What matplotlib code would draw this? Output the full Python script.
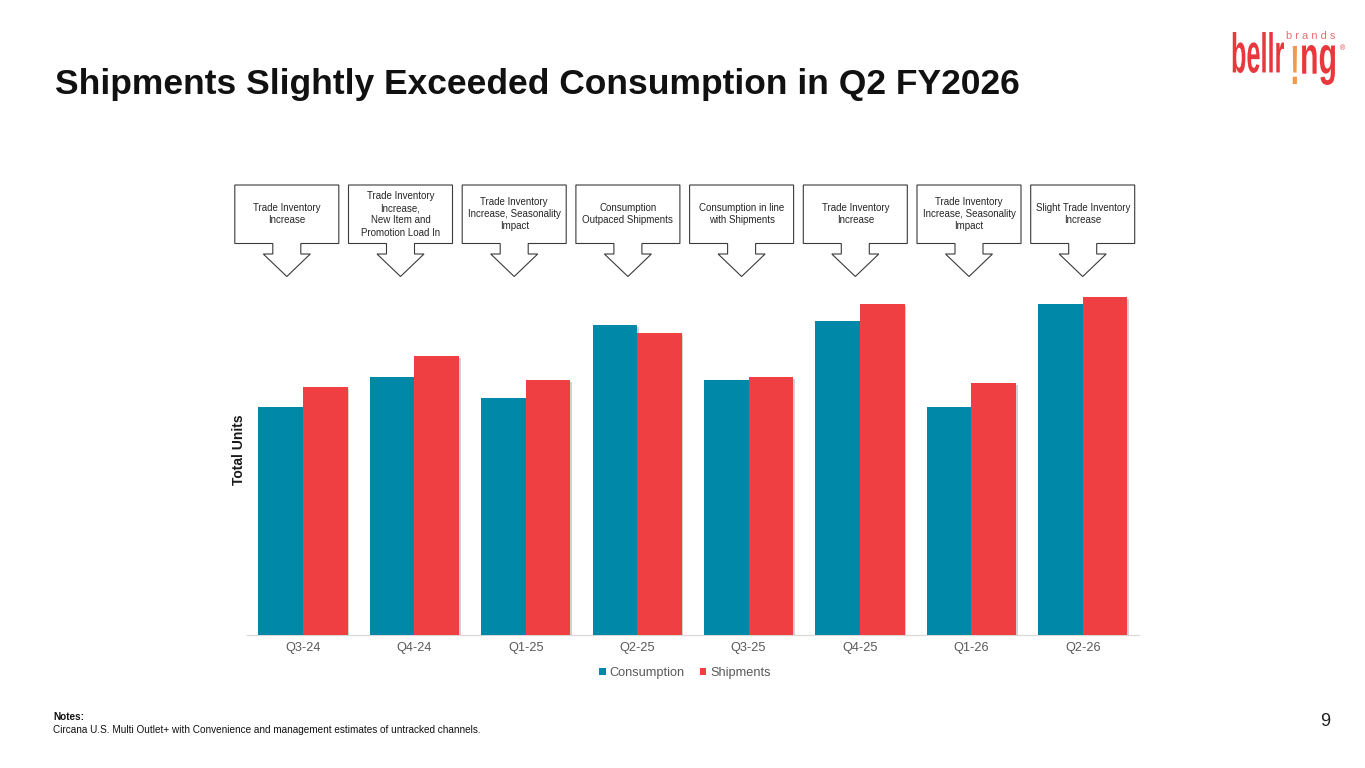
import matplotlib
matplotlib.use("Agg")
import matplotlib.pyplot as plt
import numpy as np
from matplotlib.patches import Polygon, PathPatch
from matplotlib.textpath import TextPath
from matplotlib.font_manager import FontProperties
from matplotlib.transforms import Affine2D
import matplotlib.patheffects as pe

plt.rcParams['font.family'] = ['Liberation Sans', 'DejaVu Sans']

# ---------------- data ----------------
quarters = ["Q3-24", "Q4-24", "Q1-25", "Q2-25", "Q3-25", "Q4-25", "Q1-26", "Q2-26"]
consumption = [228, 258, 237, 310, 255, 314, 228, 331]
shipments = [248, 279, 255, 302, 258, 331, 252, 338]
series_names = ["Consumption", "Shipments"]
callouts = [
    "Trade Inventory\nIncrease",
    "Trade Inventory\nIncrease,\nNew Item and\nPromotion Load In",
    "Trade Inventory\nIncrease, Seasonality\nImpact",
    "Consumption\nOutpaced Shipments",
    "Consumption in line\nwith Shipments",
    "Trade Inventory\nIncrease",
    "Trade Inventory\nIncrease, Seasonality\nImpact",
    "Slight Trade Inventory\nIncrease",
]
title = "Shipments Slightly Exceeded Consumption in Q2 FY2026"
notes_head = "Notes:"
notes_body = "Circana U.S. Multi Outlet+ with Convenience and management estimates of untracked channels."
page_no = "9"

TEAL = "#0088A8"
RED = "#EF3F43"
GRAY = "#595959"

W, H = 1365, 768
fig = plt.figure(figsize=(W / 100, H / 100), dpi=100)
fig.patch.set_facecolor("white")

# overlay in pixel coordinates for decorations
ov = fig.add_axes([0, 0, 1, 1], zorder=0)
ov.set_xlim(0, W)
ov.set_ylim(H, 0)
ov.axis("off")
ov.patch.set_alpha(0)

# main chart axes
ax_left, ax_right, ax_bottom_px, ax_top_px = 247.3, 1138.5, 635, 275
ax = fig.add_axes([ax_left / W, (H - ax_bottom_px) / H,
                   (ax_right - ax_left) / W, (ax_bottom_px - ax_top_px) / H], zorder=2)
ax.patch.set_alpha(0)

x = np.arange(len(quarters))
bw = 0.4
b1 = ax.bar(x - bw / 2, consumption, width=bw, color=TEAL, label=series_names[0], zorder=3)
b2 = ax.bar(x + bw / 2, shipments, width=bw, color=RED, label=series_names[1], zorder=3)

ax.set_xlim(-0.5, len(quarters) - 0.5)
ax.set_ylim(0, 360)
ax.set_xticks(x)
ax.set_xticklabels(quarters, color=GRAY, fontsize=9.2)
ax.tick_params(axis="x", length=0, pad=5)
ax.set_yticks([])
for s in ["top", "right", "left"]:
    ax.spines[s].set_visible(False)
ax.spines["bottom"].set_color("#D9D9D9")
ax.spines["bottom"].set_linewidth(0.9)

ax.set_ylabel("Total Units", fontsize=10, fontweight="bold", color="#1a1a1a")
ax.yaxis.set_label_coords(-0.001, 0.515)

leg = ax.legend(loc="center", bbox_to_anchor=(0.491, -0.106), ncol=2, frameon=False,
                fontsize=9.2, handlelength=0.5, handleheight=0.5, handletextpad=0.3,
                columnspacing=1.2, labelcolor=GRAY)

# subtle shadow on bars only (added after the legend so handles stay flat)
shadow = [pe.SimplePatchShadow(offset=(1.2, -1.2), shadow_rgbFace="#000000", alpha=0.18), pe.Normal()]
for p in list(b1) + list(b2):
    p.set_path_effects(shadow)

# callouts (down-arrow boxes)
box_w = 104.0
top, bot = 185.0, 243.5
shoulder, tip = 254.0, 276.5
shaft_hw, head_hw = 14.0, 23.5
for i, txt in enumerate(callouts):
    L = 234.8 + i * 113.7
    R = L + box_w
    c = (L + R) / 2
    pts = [(L, top), (R, top), (R, bot), (c + shaft_hw, bot), (c + shaft_hw, shoulder),
           (c + head_hw, shoulder), (c, tip), (c - head_hw, shoulder), (c - shaft_hw, shoulder),
           (c - shaft_hw, bot), (L, bot)]
    ov.add_patch(Polygon(pts, closed=True, facecolor="white", edgecolor="#3a3a3a", lw=0.8))
    ov.text(c, (top + bot) / 2, txt, ha="center", va="center", fontsize=7,
            color="#262626", linespacing=1.28)

# title
ov.text(55, 94, title, fontsize=25.5, fontweight="bold", color="#111111",
        ha="left", va="baseline")

# notes
ov.text(53, 717, notes_head, fontsize=7.2, fontweight="bold", color="#111111", ha="left", va="center")
ov.text(53, 730, notes_body, fontsize=7.2, color="#111111", ha="left", va="center")

# page number
ov.text(1325, 722, page_no, fontsize=13, color="#222222", ha="center", va="center")

# logo built from text paths fitted into pixel boxes
def fit_text(s, box, color, weight="normal", family="Liberation Sans"):
    fp = FontProperties(family=family, weight=weight)
    tp = TextPath((0, 0), s, size=10, prop=fp)
    v = tp.vertices
    x0, x1 = v[:, 0].min(), v[:, 0].max()
    y0, y1 = v[:, 1].min(), v[:, 1].max()
    bx0, by0, bx1, by1 = box  # pixel: left, top, right, bottom
    sx = (bx1 - bx0) / (x1 - x0)
    sy = (by1 - by0) / (y1 - y0)
    tr = Affine2D().translate(-x0, -y1).scale(sx, -sy).translate(bx0, by0)
    path = tr.transform_path(tp)
    ov.add_patch(PathPatch(path, facecolor=color, edgecolor="none", lw=0))

LOGO_RED = "#E8383D"
fit_text("bellr", (1231, 32, 1284, 73), LOGO_RED, weight="bold")
fit_text("!", (1290, 46, 1297, 84), "#F2994A", weight="bold")
fit_text("ng", (1300, 45, 1335, 85), LOGO_RED, weight="bold")
fit_text("b r a n d s", (1286, 31, 1335, 39), "#E8686C")
ov.text(1342, 49, "®", fontsize=5, color=LOGO_RED, ha="center", va="center")

fig.savefig("out.png", dpi=100, facecolor="white")
